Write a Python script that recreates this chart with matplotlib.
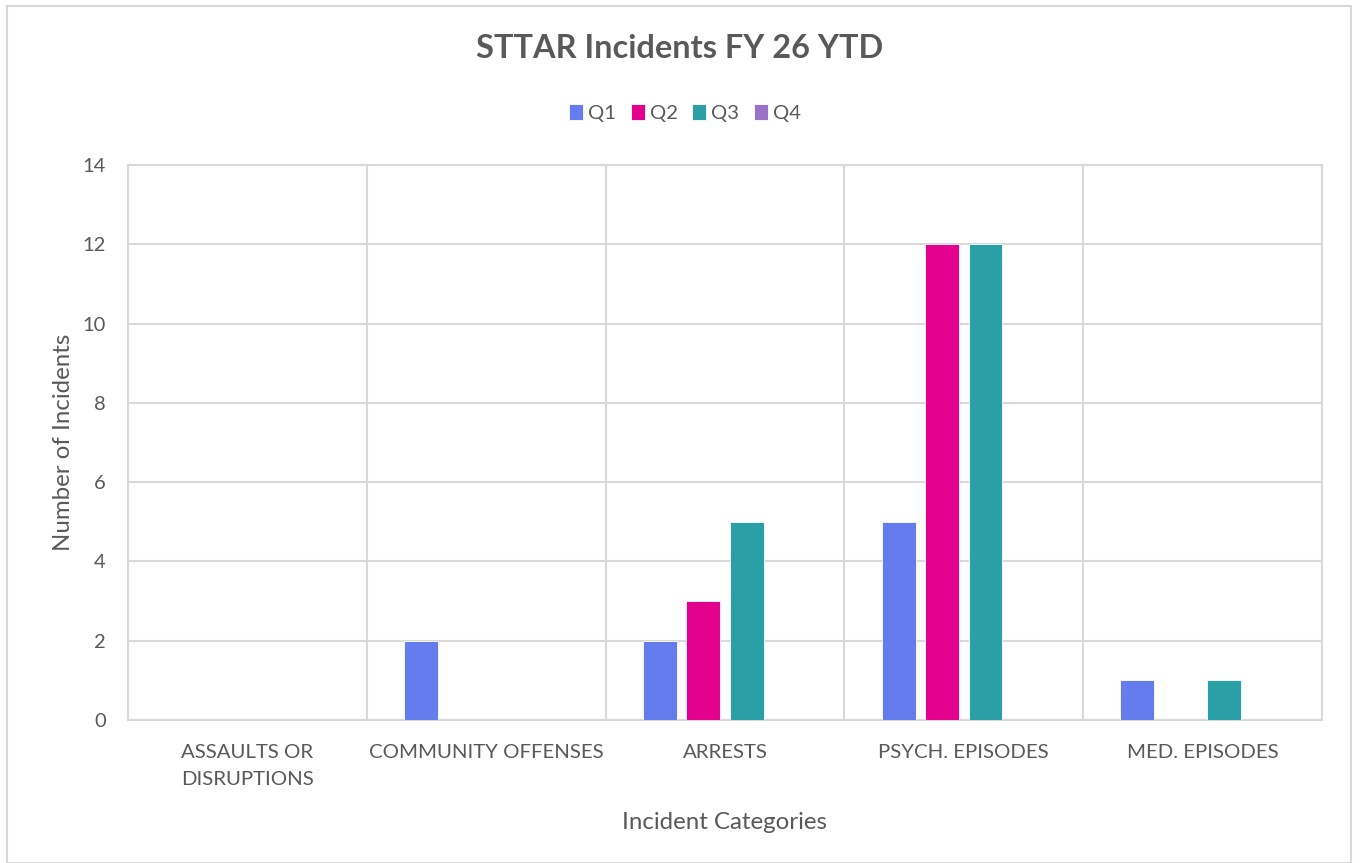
import matplotlib.pyplot as plt
import numpy as np
from matplotlib.patches import Rectangle

plt.rcParams['font.family'] = ['Lato', 'DejaVu Sans']

categories = ['ASSAULTS OR\nDISRUPTIONS', 'COMMUNITY OFFENSES', 'ARRESTS',
              'PSYCH. EPISODES', 'MED. EPISODES']
series = ['Q1', 'Q2', 'Q3', 'Q4']
q1 = [0, 2, 2, 5, 1]
q2 = [0, 0, 3, 12, 0]
q3 = [0, 0, 5, 12, 1]
q4 = [0, 0, 0, 0, 0]
colors = ['#657CEF', '#E3008C', '#2A9FA5', '#9A73C8']
text_col = '#595959'
grid_col = '#D9D9D9'

fig = plt.figure(figsize=(13.61, 8.63), dpi=100)
# chart frame
fig.patches.append(Rectangle((7 / 1361, 0), 1344 / 1361, 1 - 6 / 863,
                             transform=fig.transFigure, fill=False,
                             edgecolor=grid_col, linewidth=1.5))

ax = fig.add_axes([128 / 1361, 1 - 720 / 863, 1194 / 1361, 555 / 863])
x = np.arange(len(categories))
pitch = 0.182
width = 0.142
for i, (vals, name) in enumerate(zip([q1, q2, q3, q4], series)):
    ax.bar(x + (i - 1.5) * pitch, vals, width, color=colors[i], label=name,
           edgecolor='white', linewidth=0.6, zorder=3)

ax.set_xlim(-0.5, len(categories) - 0.5)
ax.set_ylim(0, 14)
ax.set_yticks(range(0, 15, 2))
ax.set_xticks(x)
ax.set_xticklabels(categories, fontsize=14.7, color=text_col, linespacing=1.75)
ax.tick_params(axis='y', labelsize=14.5, labelcolor=text_col, length=0, pad=16)
ax.tick_params(axis='x', length=0, pad=17)
ax.set_xticks(np.arange(-0.5, len(categories)), minor=True)
ax.tick_params(axis='x', which='minor', length=0)
ax.grid(axis='y', color=grid_col, linewidth=1.5, zorder=0)
ax.grid(axis='x', which='minor', color=grid_col, linewidth=1.5, zorder=0)
for s in ax.spines.values():
    s.set_color(grid_col)
    s.set_linewidth(1.5)

ax.set_xlabel('Incident Categories', fontsize=17.3, color=text_col, labelpad=17)
ax.set_ylabel('Number of Incidents', fontsize=17.3, color=text_col, labelpad=6)

fig.text(680 / 1361, 1 - 49 / 863, 'STTAR Incidents FY 26 YTD', ha='center',
         va='center', fontsize=23.4, fontweight='bold', color=text_col)
fig.legend(loc='center', bbox_to_anchor=(685 / 1361, 1 - 113 / 863), ncol=4,
           frameon=False, fontsize=14.6, labelcolor=text_col, handlelength=0.7,
           handleheight=0.8, handletextpad=0.25, columnspacing=0.7)

fig.savefig('out.png', dpi=100)
